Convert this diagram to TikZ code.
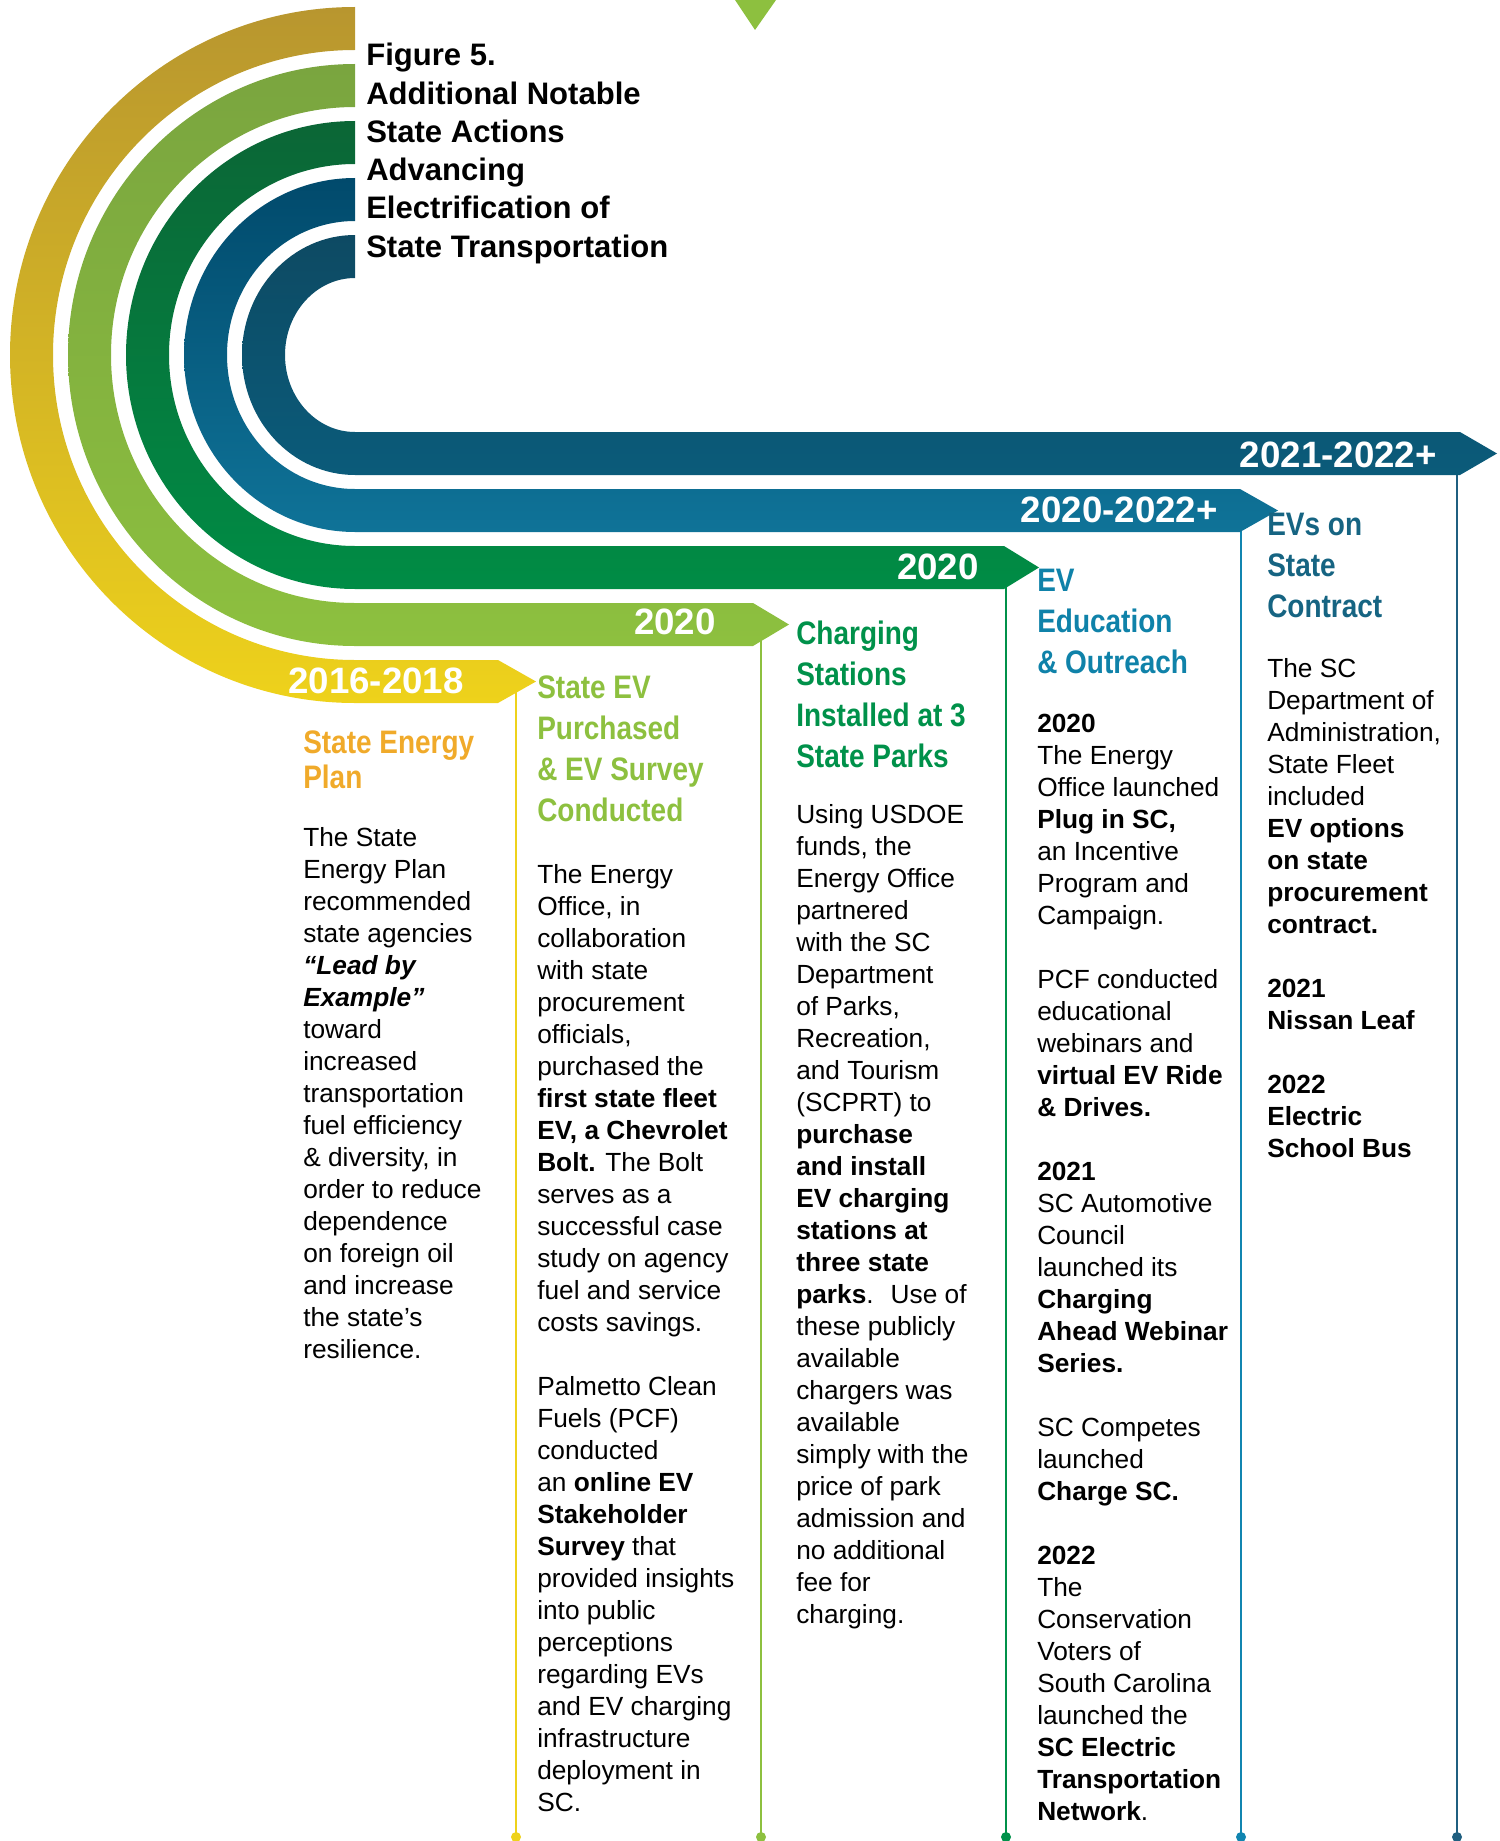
\documentclass[tikz,border=0pt]{standalone}
\usepackage{fontspec}
\setmainfont{Liberation Sans}
\newfontfamily\condfont[FakeStretch=0.86]{Liberation Sans}
\newfontfamily\yearfont{Liberation Sans}
\usepackage{xcolor}
\usepackage{tikz}

\definecolor{ylwtop}{HTML}{B8962F}
\definecolor{ylwbar}{HTML}{EED21B}
\definecolor{lgrtop}{HTML}{7AA53F}
\definecolor{lgrbar}{HTML}{8DC03F}
\definecolor{dgrtop}{HTML}{0B6636}
\definecolor{dgrbar}{HTML}{008C45}
\definecolor{blutop}{HTML}{014A6C}
\definecolor{blubar}{HTML}{0F7398}
\definecolor{navtop}{HTML}{0D4A63}
\definecolor{navbar}{HTML}{0B5B7A}
\definecolor{headorange}{HTML}{F0AA2A}
\definecolor{headgreen}{HTML}{00914A}
\definecolor{headblue}{HTML}{0F82A9}
\definecolor{headnavy}{HTML}{166482}
\definecolor{bluline}{HTML}{1185B0}
\definecolor{navline}{HTML}{1F5F80}

\begin{document}
\begin{tikzpicture}[x=0.75pt,y=0.75pt,yscale=-1,xscale=1,
    body/.style={anchor=north west,inner sep=0pt,align=left,font=\fontsize{19.7}{24}\selectfont},
    head/.style={anchor=north west,inner sep=0pt,align=left,font=\condfont\bfseries\fontsize{24.4}{30.75}\selectfont},
    yearlbl/.style={anchor=base east,inner sep=0pt,text=white,font=\yearfont\bfseries\fontsize{27.5}{27.5}\selectfont},
    vline/.style={line width=2pt}]
        \useasboundingbox (0,0) rectangle (1499,1841);

        % drop lines and end dots
        \coordinate (ylwtop) at (516,681);
        \coordinate (ylwdot) at (516,1837);
        \coordinate (lgrtop) at (761,624);
        \coordinate (lgrdot) at (761,1837);
        \coordinate (dgrtop) at (1006,567);
        \coordinate (dgrdot) at (1006,1837);
        \coordinate (blutop) at (1241,510);
        \coordinate (bludot) at (1241,1837);
        \coordinate (navtop) at (1457,453);
        \coordinate (navdot) at (1457,1837);
        \draw [vline, color=ylwbar] (ylwtop) -- (ylwdot);
        \draw [vline, color=lgrbar] (lgrtop) -- (lgrdot);
        \draw [vline, color=headgreen] (dgrtop) -- (dgrdot);
        \draw [vline, color=bluline] (blutop) -- (bludot);
        \draw [vline, color=navline] (navtop) -- (navdot);
        \fill [ylwbar] (ylwdot) circle [radius=5];
        \fill [lgrbar] (lgrdot) circle [radius=5];
        \fill [headgreen] (dgrdot) circle [radius=5];
        \fill [bluline] (bludot) circle [radius=5];
        \fill [navline] (navdot) circle [radius=5];

        % bands
        \shade [top color=ylwtop, bottom color=ylwbar] (355,7) arc [start angle=270, end angle=90, x radius=345, y radius=348] -- (498,703) -- (536,681.5) -- (498,660) -- (355,660) arc [start angle=90, end angle=270, x radius=302, y radius=305] -- cycle;
        \shade [top color=lgrtop, bottom color=lgrbar] (355,64) arc [start angle=270, end angle=90, x radius=287, y radius=291] -- (753,646) -- (789,624.5) -- (753,603) -- (355,603) arc [start angle=90, end angle=270, x radius=244, y radius=248] -- cycle;
        \shade [top color=dgrtop, bottom color=dgrbar] (355,121) arc [start angle=270, end angle=90, x radius=229, y radius=234] -- (1004,589) -- (1039,567.5) -- (1004,546) -- (355,546) arc [start angle=90, end angle=270, x radius=186, y radius=191] -- cycle;
        \shade [top color=blutop, bottom color=blubar] (355,178) arc [start angle=270, end angle=90, x radius=171, y radius=177] -- (1240,532) -- (1278,510.5) -- (1240,489) -- (355,489) arc [start angle=90, end angle=270, x radius=128, y radius=134] -- cycle;
        \shade [top color=navtop, bottom color=navbar] (355,235) arc [start angle=270, end angle=90, x radius=113, y radius=120] -- (1460,475) -- (1497,453.5) -- (1460,432) -- (355,432) arc [start angle=90, end angle=270, x radius=70, y radius=77] -- cycle;
        \fill [lgrbar] (735,0) -- (776,0) -- (755,30) -- cycle;

        % years on the bars
        \node [yearlbl] (yrplan) at (464,693) {2016-2018};
        \node [yearlbl] (yrsurvey) at (716,634) {2020};
        \node [yearlbl] (yrparks) at (979,579) {2020};
        \node [yearlbl] (yroutreach) at (1218,522) {2020-2022+};
        \node [yearlbl] (yrcontract) at (1437,467) {2021-2022+};

        % title
        \node [anchor=north west, inner sep=0pt, align=left, font=\bfseries\fontsize{23.3}{28.7}\selectfont] (figtitle) at (366,43) {Figure 5.\\Additional Notable\\State Actions\\Advancing\\Electrification of\\State Transportation};

        % column 1
        \node [head, text=headorange, font=\condfont\bfseries\fontsize{24.4}{26.25}\selectfont] (planhead) at (303,731) {State Energy\\Plan};
        \node [body] (planbody) at (303,827) {The State\\Energy Plan\\recommended\\state agencies\\\textbf{\textit{“Lead by}}\\\textbf{\textit{Example”}}\\toward\\increased\\transportation\\fuel efficiency\\\& diversity, in\\order to reduce\\dependence\\on foreign oil\\and increase\\the state’s\\resilience.};

        % column 2
        \node [head, text=lgrbar] (surveyhead) at (537,676) {State EV\\Purchased\\\& EV Survey\\Conducted};
        \node [body] (surveybody) at (537,864) {The Energy\\Office, in\\collaboration\\with state\\procurement\\officials,\\purchased the\\\textbf{first state fleet}\\\textbf{EV, a Chevrolet}\\\textbf{Bolt.} The Bolt\\serves as a\\successful case\\study on agency\\fuel and service\\costs savings.\\[24pt]Palmetto Clean\\Fuels (PCF)\\conducted\\an \textbf{online EV}\\\textbf{Stakeholder}\\\textbf{Survey} that\\provided insights\\into public\\perceptions\\regarding EVs\\and EV charging\\infrastructure\\deployment in\\SC.};

        % column 3
        \node [head, text=headgreen] (parkshead) at (796,621) {Charging\\Stations\\Installed at 3\\State Parks};
        \node [body] (parksbody) at (796,804) {Using USDOE\\funds, the\\Energy Office\\partnered\\with the SC\\Department\\of Parks,\\Recreation,\\and Tourism\\(SCPRT) to\\\textbf{purchase}\\\textbf{and install}\\\textbf{EV charging}\\\textbf{stations at}\\\textbf{three state}\\\textbf{parks}.~ Use of\\these publicly\\available\\chargers was\\available\\simply with the\\price of park\\admission and\\no additional\\fee for\\charging.};

        % column 4
        \node [head, text=headblue] (outreachhead) at (1037,569) {EV\\Education\\\& Outreach};
        \node [body] (outreachbody) at (1037,714) {\textbf{2020}\\The Energy\\Office launched\\\textbf{Plug in SC,}\\an Incentive\\Program and\\Campaign.\\[24pt]PCF conducted\\educational\\webinars and\\\textbf{virtual EV Ride}\\\textbf{\& Drives.}\\[24pt]\textbf{2021}\\SC Automotive\\Council\\launched its\\\textbf{Charging}\\\textbf{Ahead Webinar}\\\textbf{Series.}\\[24pt]SC Competes\\launched\\\textbf{Charge SC.}\\[24pt]\textbf{2022}\\The\\Conservation\\Voters of\\South Carolina\\launched the\\\textbf{SC Electric}\\\textbf{Transportation}\\\textbf{Network}.};

        % column 5
        \node [head, text=headnavy] (contracthead) at (1267,513) {EVs on\\State\\Contract};
        \node [body] (contractbody) at (1267,658) {The SC\\Department of\\Administration,\\State Fleet\\included\\\textbf{EV options}\\\textbf{on state}\\\textbf{procurement}\\\textbf{contract.}\\[24pt]\textbf{2021}\\\textbf{Nissan Leaf}\\[24pt]\textbf{2022}\\\textbf{Electric}\\\textbf{School Bus}};
    \end{tikzpicture}
\end{document}
